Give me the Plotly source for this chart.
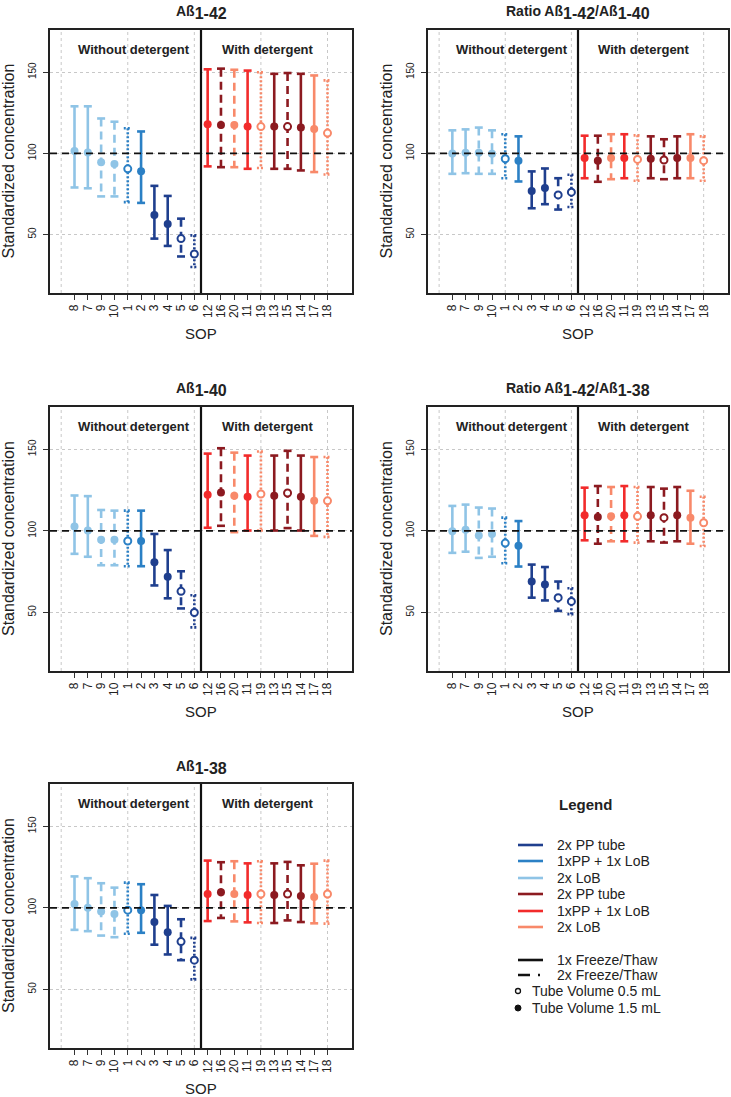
import numpy as np
import plotly.graph_objects as go

# ---------------- data ----------------
sop_labels = ["8", "7", "9", "10", "1", "2", "3", "4", "5", "6",
              "12", "16", "20", "11", "19", "13", "15", "14", "17", "18"]
tube_group = ["LoB2", "LoB2", "LoB2", "LoB2", "PPLoB", "PPLoB", "PP2", "PP2", "PP2", "PP2",
              "PPLoB_d", "PP2_d", "LoB2_d", "PPLoB_d", "LoB2_d", "PP2_d", "PP2_d", "PP2_d", "LoB2_d", "LoB2_d"]
freeze_style = ["solid", "solid", "dash", "dash", "dot", "solid", "solid", "solid", "dash", "dot",
                "solid", "dash", "dash", "solid", "dot", "solid", "dash", "solid", "solid", "dot"]
tube_volume = [1.5, 1.5, 1.5, 1.5, 0.5, 1.5, 1.5, 1.5, 0.5, 0.5,
               1.5, 1.5, 1.5, 1.5, 0.5, 1.5, 0.5, 1.5, 1.5, 0.5]

a42_mean = [101.5, 100.5, 94.5, 93.5, 90.5, 89, 62, 56.5, 47.5, 38,
            118, 117.5, 117.5, 116.5, 116.5, 116.5, 116.5, 116, 115, 112.5]
a42_lo = [79, 78.5, 73.5, 73.5, 70, 69.5, 47.5, 43, 36.5, 30,
          92, 91.5, 91.5, 90.5, 91, 90.5, 90.5, 89.5, 88.5, 87]
a42_hi = [129, 129, 121.5, 119.5, 115.5, 113.5, 80, 73.8, 59.8, 49.5,
          151.8, 152.2, 151.5, 151, 150, 149, 149.5, 149, 148, 145]

r4240_mean = [100, 100.4, 100.4, 99.8, 96.7, 95.5, 76.9, 78.6, 74.4, 76.1,
              97.1, 95.5, 97.1, 97.1, 96.3, 96.7, 95.9, 97.1, 97.1, 95.5]
r4240_lo = [87.4, 87.8, 87.4, 87.4, 84.7, 82.7, 66.2, 68.7, 65.4, 67.0,
            84.7, 82.5, 84.1, 84.7, 83.1, 84.7, 84.1, 84.7, 84.7, 83.1]
r4240_hi = [114.2, 114.8, 115.9, 114.2, 111.8, 110.5, 88.9, 90.7, 84.7, 86.8,
            110.9, 110.9, 111.8, 111.8, 111.1, 110.5, 108.7, 110.5, 111.8, 110.5]

a40_mean = [102.7, 100.2, 94.6, 94.6, 93.8, 93.8, 80.7, 71.8, 62.9, 49.9,
            122.2, 123.6, 121.5, 120.9, 122.6, 121.5, 123.2, 120.9, 118.4, 118.4]
a40_lo = [85.9, 84.1, 78.9, 78.9, 78.3, 78.3, 66.5, 58.6, 52.4, 40.8,
          101.9, 103.1, 99.2, 100.2, 100.2, 100.2, 101.7, 100.2, 96.9, 96.3]
a40_hi = [121.7, 121.3, 112.8, 112.4, 112.4, 112.4, 98.1, 88.2, 75.2, 60.5,
          147.4, 150.7, 148.0, 146.2, 148.7, 146.2, 149.1, 146.2, 145.3, 145.3]

r4238_mean = [99.8, 100.6, 97.1, 98.1, 92.5, 90.9, 68.9, 67.1, 59.0, 56.7,
              109.5, 108.5, 108.9, 109.5, 108.9, 109.5, 108.1, 109.5, 108.1, 105.0]
r4238_lo = [86.5, 87.2, 83.4, 84.1, 80.1, 78.1, 59.0, 57.3, 50.9, 48.9,
            94.2, 92.1, 93.6, 93.6, 92.8, 93.6, 92.8, 93.6, 92.1, 90.7]
r4238_hi = [115.3, 116.1, 114.3, 113.7, 108.1, 106.0, 79.3, 77.8, 68.9, 64.8,
            126.5, 127.5, 126.9, 127.5, 126.9, 126.9, 125.9, 126.9, 124.6, 120.9]

a38_mean = [102.3, 100, 97.7, 96.3, 98.6, 98.6, 91.3, 85.1, 79.3, 67.9,
            108.5, 109.5, 108.5, 107.9, 108.5, 107.9, 108.5, 107.2, 106.6, 108.5]
a38_lo = [86.5, 85.7, 83.0, 82.0, 84.1, 84.7, 77.4, 71.4, 67.9, 56.1,
          91.9, 93.8, 91.7, 91.1, 90.7, 90.7, 92.3, 91.3, 90.5, 90.3]
a38_hi = [119.3, 118.2, 115.1, 112.4, 115.5, 114.5, 107.9, 101.2, 93.0, 81.6,
          129.0, 128.0, 128.6, 127.3, 128.6, 127.3, 128.2, 126.1, 127.1, 129.0]

y_ticks = [50, 100, 150]
legend_labels = ["2x PP tube", "1xPP + 1x LoB", "2x LoB", "2x PP tube", "1xPP + 1x LoB", "2x LoB"]
legend_groups = ["PP2", "PPLoB", "LoB2", "PP2_d", "PPLoB_d", "LoB2_d"]

# ---------------- style ----------------
W, H = 731, 1097
FONT = "Liberation Sans, Arial, sans-serif"
COLORS = {"LoB2": "#8fc4e6", "PPLoB": "#2b80c5", "PP2": "#1f3f8e",
          "PP2_d": "#8c1a20", "PPLoB_d": "#f22b2b", "LoB2_d": "#f8896a"}
DASHES = {"solid": "solid", "dash": "8px,5px", "dot": "2px,2px"}
CAP = 0.3
XR = [-0.84, 21.84]
YR = [14, 176]
TXT = "#222"


def sub(t, s=16):
    return "<sub><span style='font-size:%dpx'>%s</span></sub>" % (s, t)


panels = [
    dict(title="Aß" + sub("1-42"), mean=a42_mean, lo=a42_lo, hi=a42_hi, box=(50, 352, 30, 293)),
    dict(title="Ratio Aß" + sub("1-42") + "/Aß" + sub("1-40"), mean=r4240_mean, lo=r4240_lo, hi=r4240_hi,
         box=(428, 728, 30, 293)),
    dict(title="Aß" + sub("1-40"), mean=a40_mean, lo=a40_lo, hi=a40_hi, box=(50, 352, 407, 671)),
    dict(title="Ratio Aß" + sub("1-42") + "/Aß" + sub("1-38"), mean=r4238_mean, lo=r4238_lo, hi=r4238_hi,
         box=(428, 728, 407, 671)),
    dict(title="Aß" + sub("1-38"), mean=a38_mean, lo=a38_lo, hi=a38_hi, box=(50, 352, 784, 1048)),
]


def px(p):
    return p / W


def py(p):
    return 1 - p / H


def ann(x, y, text, size, xanchor="center", xref="paper", yref="paper", angle=0):
    return dict(xref=xref, yref=yref, x=x, y=y, text=text, showarrow=False,
                xanchor=xanchor, yanchor="middle", textangle=angle,
                font=dict(size=size, color=TXT))


fig = go.Figure()
layout = dict(width=W, height=H, margin=dict(l=0, r=0, t=0, b=0),
              paper_bgcolor="white", plot_bgcolor="white", showlegend=False,
              font=dict(family=FONT, color=TXT))
shapes, annotations = [], []
positions = np.arange(1, len(sop_labels) + 1)

for k, p in enumerate(panels):
    n = "" if k == 0 else str(k + 1)
    xa, ya = "x" + n, "y" + n
    x0, x1, y0, y1 = p["box"]
    layout["xaxis" + n] = dict(domain=[px(x0), px(x1)], anchor=ya, range=XR,
                               tickmode="array", tickvals=positions, ticktext=sop_labels,
                               tickangle=-90, ticks="outside", ticklen=5, tickwidth=1,
                               tickcolor="#333", showgrid=False, zeroline=False,
                               showline=True, mirror=True, linecolor="#222", linewidth=1.5,
                               tickfont=dict(size=12, color=TXT))
    layout["yaxis" + n] = dict(domain=[py(y1), py(y0)], anchor=xa, range=YR,
                               tickmode="array", tickvals=y_ticks, tickangle=-90,
                               ticks="outside", ticklen=5, tickwidth=1, tickcolor="#333",
                               ticklabelstandoff=3,
                               showgrid=True, gridcolor="#c8c8c8", griddash="dot", gridwidth=1,
                               zeroline=False, showline=True, mirror=True, linecolor="#222",
                               linewidth=1.5, tickfont=dict(size=10, color=TXT))
    # vertical grid lines
    for gx in [0, 5, 10, 15, 20]:
        shapes.append(dict(type="line", xref=xa, yref=ya + " domain", x0=gx, x1=gx, y0=0, y1=1,
                           line=dict(color="#c8c8c8", width=1, dash="dot"), layer="below"))
    # reference line at 100 and detergent divider
    shapes.append(dict(type="line", xref=xa + " domain", yref=ya, x0=0, x1=1, y0=100, y1=100,
                       line=dict(color="#111", width=1.6, dash="7px,5px"), layer="above"))
    shapes.append(dict(type="line", xref=xa, yref=ya + " domain", x0=10.5, x1=10.5, y0=0, y1=1,
                       line=dict(color="#111", width=2.2), layer="above"))

    # error bars grouped by colour + line style
    combos = sorted(set(zip(tube_group, freeze_style)))
    for grp, sty in combos:
        xs, ys = [], []
        for i in range(len(sop_labels)):
            if tube_group[i] != grp or freeze_style[i] != sty:
                continue
            xi, lo, hi = positions[i], p["lo"][i], p["hi"][i]
            xs += [xi - CAP, xi + CAP, None, xi, xi, None, xi - CAP, xi + CAP, None]
            ys += [hi, hi, None, hi, lo, None, lo, lo, None]
        fig.add_trace(go.Scatter(x=xs, y=ys, mode="lines", xaxis=xa, yaxis=ya,
                                 line=dict(color=COLORS[grp], width=2.6, dash=DASHES[sty]),
                                 hoverinfo="skip"))
    # markers
    for grp in COLORS:
        for vol in [1.5, 0.5]:
            idx = [i for i in range(len(sop_labels)) if tube_group[i] == grp and tube_volume[i] == vol]
            if not idx:
                continue
            if vol == 1.5:
                mk = dict(size=8, color=COLORS[grp], line=dict(width=0))
            else:
                mk = dict(size=7, color="white", line=dict(width=2, color=COLORS[grp]))
            fig.add_trace(go.Scatter(x=[positions[i] for i in idx], y=[p["mean"][i] for i in idx],
                                     mode="markers", marker=mk, xaxis=xa, yaxis=ya,
                                     text=[sop_labels[i] for i in idx]))

    # texts
    annotations.append(ann(5.5, 164, "<b>Without detergent</b>", 13, xref=xa, yref=ya))
    annotations.append(ann(15.5, 164, "<b>With detergent</b>", 13, xref=xa, yref=ya))
    annotations.append(ann(px((x0 + x1) / 2), py(y0 - 17), "<b>" + p["title"] + "</b>", 14))
    annotations.append(ann(px(x0 - 42), py((y0 + y1) / 2), "Standardized concentration", 16, angle=-90))
    annotations.append(ann(px((x0 + x1) / 2), py(y1 + 40), "SOP", 15))

# ---------------- legend ----------------
annotations.append(ann(px(585), py(804), "<b>Legend</b>", 15))
row_y = [845, 861, 878, 894, 911, 927]
for lab, grp, ry in zip(legend_labels, legend_groups, row_y):
    shapes.append(dict(type="line", xref="paper", yref="paper", x0=px(518), x1=px(543),
                       y0=py(ry), y1=py(ry), line=dict(color=COLORS[grp], width=2.6)))
    annotations.append(ann(px(555), py(ry), lab, 14, xanchor="left"))
shapes.append(dict(type="line", xref="paper", yref="paper", x0=px(518), x1=px(543),
                   y0=py(960), y1=py(960), line=dict(color="#111", width=2.6)))
shapes.append(dict(type="line", xref="paper", yref="paper", x0=px(518), x1=px(543),
                   y0=py(975), y1=py(975), line=dict(color="#111", width=2.6, dash="12px,8px,2px,10px")))
annotations.append(ann(px(555), py(960), "1x Freeze/Thaw", 14, xanchor="left"))
annotations.append(ann(px(555), py(975), "2x Freeze/Thaw", 14, xanchor="left"))
shapes.append(dict(type="circle", xref="paper", yref="paper", x0=px(515.5), x1=px(520.5),
                   y0=py(993.5), y1=py(988.5), line=dict(color="#111", width=1.3), fillcolor="white"))
shapes.append(dict(type="circle", xref="paper", yref="paper", x0=px(515), x1=px(521),
                   y0=py(1011), y1=py(1005), line=dict(color="#111", width=1), fillcolor="#111"))
annotations.append(ann(px(530), py(991), "Tube Volume 0.5 mL", 14, xanchor="left"))
annotations.append(ann(px(530), py(1008), "Tube Volume 1.5 mL", 14, xanchor="left"))

layout["shapes"] = shapes
layout["annotations"] = annotations
fig.update_layout(**layout)
fig.write_html("out.html", config={"displayModeBar": False},
               post_script="document.body.style.margin='0';document.body.style.overflow='hidden';")
